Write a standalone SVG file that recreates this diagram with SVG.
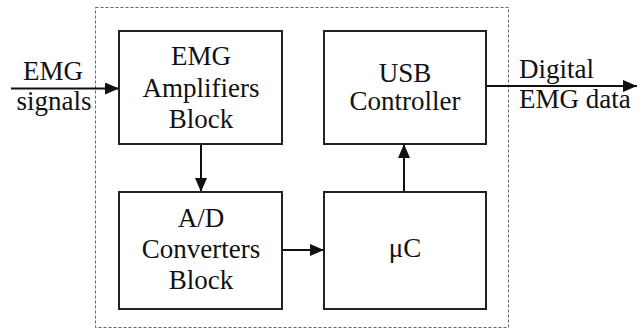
<svg xmlns="http://www.w3.org/2000/svg" width="644" height="329" viewBox="0 0 644 329">
<style>
.box{fill:#fff;stroke:#222;stroke-width:2}
.t{font-family:"Liberation Serif","Times New Roman",Times,Tinos,"Nimbus Roman","Nimbus Roman No9 L","FreeSerif","Noto Serif","DejaVu Serif",serif;font-size:27px;fill:#111;text-anchor:middle}
.s{text-anchor:start}
.c{stroke:#111;stroke-width:2;fill:none}
</style>
<defs>
<marker id="ah" viewBox="0 0 14 12" refX="14" refY="6" markerWidth="14" markerHeight="12" markerUnits="userSpaceOnUse" orient="auto">
<path d="M0,0 L14,6 L0,12 Z" fill="#111"/>
</marker>
</defs>
<rect width="644" height="329" fill="#fff"/>
<rect id="boundary" x="95.5" y="7.5" width="413" height="320" fill="none" stroke="#666" stroke-width="1" stroke-dasharray="3,2"/>
<g id="connectors">
<line class="c" x1="11" y1="88.5" x2="119" y2="88.5" marker-end="url(#ah)"/>
<line class="c" x1="486" y1="86" x2="637" y2="86" marker-end="url(#ah)"/>
<line class="c" x1="201" y1="144" x2="201" y2="192" marker-end="url(#ah)"/>
<line class="c" x1="282" y1="250" x2="324" y2="250" marker-end="url(#ah)"/>
<line class="c" x1="404" y1="192" x2="404" y2="144" marker-end="url(#ah)"/>
</g>
<g id="label-in">
<text class="t" x="53" y="80">EMG</text>
<text class="t" x="54" y="110">signals</text>
</g>
<g id="label-out">
<text class="t s" x="519" y="78">Digital</text>
<text class="t s" x="519" y="108">EMG data</text>
</g>
<g id="amp">
<rect class="box" x="119" y="31" width="163" height="113"/>
<text class="t" x="201" y="65">EMG</text>
<text class="t" x="201" y="97">Amplifiers</text>
<text class="t" x="201" y="128">Block</text>
</g>
<g id="usb">
<rect class="box" x="324" y="31" width="162" height="113"/>
<text class="t" x="405" y="82">USB</text>
<text class="t" x="405" y="110">Controller</text>
</g>
<g id="adc">
<rect class="box" x="119" y="192" width="163" height="117"/>
<text class="t" x="201" y="227">A/D</text>
<text class="t" x="201" y="258">Converters</text>
<text class="t" x="201" y="289">Block</text>
</g>
<g id="uc">
<rect class="box" x="324" y="192" width="162" height="117"/>
<text class="t" x="405" y="257">μC</text>
</g>
</svg>
